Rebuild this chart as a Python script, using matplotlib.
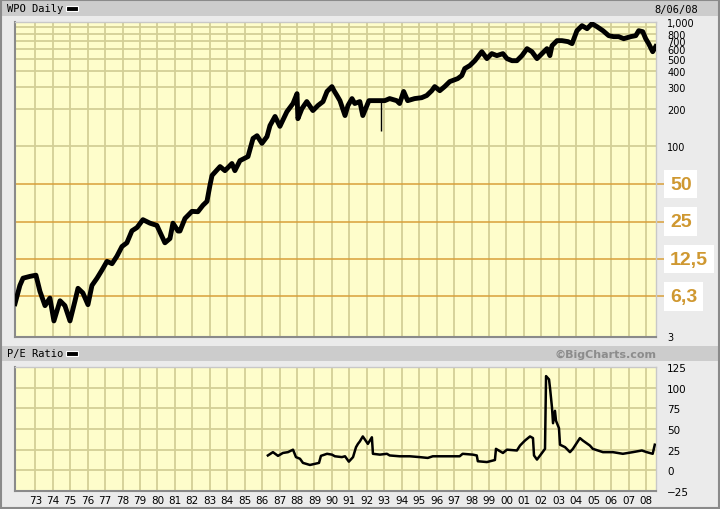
import numpy as np
import matplotlib
matplotlib.use("Agg")
import matplotlib.pyplot as plt
from matplotlib.patches import Rectangle

# --- data ---
price_years = [1971.84, 1972.12, 1972.30, 1972.70, 1973.04, 1973.27, 1973.56, 1973.84,
               1974.07, 1974.42, 1974.70, 1974.99, 1975.28, 1975.45, 1975.73, 1976.02,
               1976.25, 1976.54, 1976.82, 1977.11, 1977.40, 1977.68, 1977.97, 1978.25,
               1978.54, 1978.83, 1979.17, 1979.57, 1979.97, 1980.43, 1980.72, 1980.89,
               1981.18, 1981.29, 1981.58, 1981.98, 1982.32, 1982.61, 1982.84, 1983.01,
               1983.13, 1983.59, 1983.87, 1984.27, 1984.44, 1984.73, 1985.19, 1985.48,
               1985.71, 1985.99, 1986.28, 1986.45, 1986.74, 1987.02, 1987.42, 1987.77,
               1988.00, 1988.05, 1988.28, 1988.56, 1988.91, 1989.20, 1989.49, 1989.72,
               1990.00, 1990.12, 1990.29, 1990.46, 1990.75, 1990.92, 1991.15, 1991.31,
               1991.60, 1991.77, 1992.12, 1992.34, 1992.63, 1993.03, 1993.31, 1993.71,
               1993.88, 1994.11, 1994.34, 1994.74, 1995.14, 1995.43, 1995.72, 1995.89,
               1996.18, 1996.46, 1996.75, 1997.21, 1997.44, 1997.61, 1997.90, 1998.19,
               1998.59, 1998.88, 1999.16, 1999.45, 1999.80, 2000.03, 2000.32, 2000.60,
               2000.89, 2001.18, 2001.46, 2001.75, 2002.04, 2002.32, 2002.49, 2002.61,
               2002.90, 2003.18, 2003.53, 2003.76, 2004.04, 2004.33, 2004.62, 2004.90,
               2005.19, 2005.53, 2005.86, 2006.14, 2006.43, 2006.72, 2007.12, 2007.41,
               2007.58, 2007.81, 2007.98, 2008.15, 2008.38, 2008.55]
price = [5.5, 7.7, 8.8, 9.1, 9.3, 6.9, 5.3, 6.1,
         4.0, 5.8, 5.3, 4.0, 5.8, 7.3, 6.7, 5.4,
         7.7, 8.8, 10.2, 12.0, 11.5, 13.2, 15.8, 16.9,
         21.1, 22.4, 25.9, 24.3, 23.3, 16.9, 18.3, 24.3,
         21.0, 21.0, 26.5, 30.2, 30.0, 33.8, 36.3, 48.8,
         58.6, 69, 64, 73, 64, 77, 83, 116,
         122, 106, 120, 147, 174, 145, 190, 221,
         265, 167, 201, 229, 194, 213, 229, 276,
         302, 280, 256, 233, 177, 213, 242, 221,
         229, 177, 233, 233, 233, 233, 242, 233,
         221, 276, 233, 242, 246, 256, 280, 302,
         280, 302, 331, 350, 370, 421, 445, 487,
         575, 506, 555, 535, 555, 506, 487, 487,
         535, 608, 575, 506, 555, 608, 535, 642,
         705, 705, 692, 667, 847, 929, 879, 964,
         912, 847, 773, 759, 759, 731, 759, 773,
         847, 832, 731, 667, 575, 631]

spike_year = [1992.80]
spike_low = [132]
spike_high = [233]

pe_years = [1986.33, 1986.62, 1986.91, 1987.19, 1987.48, 1987.77, 1987.94, 1988.17,
            1988.34, 1988.74, 1989.26, 1989.37, 1989.72, 1990.00, 1990.17, 1990.57,
            1990.75, 1990.97, 1991.21, 1991.38, 1991.49, 1991.60, 1991.77, 1992.06,
            1992.29, 1992.35, 1992.75, 1993.15, 1993.31, 1993.88, 1994.46, 1995.03,
            1995.49, 1995.78, 1996.58, 1997.32, 1997.49, 1998.07, 1998.30, 1998.36,
            1998.88, 1999.34, 1999.40, 1999.80, 2000.03, 2000.60, 2000.78, 2001.06,
            2001.35, 2001.52, 2001.58, 2001.75, 2001.93, 2002.21, 2002.27, 2002.44,
            2002.50, 2002.61, 2002.67, 2002.78, 2002.84, 2003.01, 2003.07, 2003.36,
            2003.64, 2003.81, 2004.21, 2004.38, 2004.78, 2004.95, 2005.53, 2006.10,
            2006.67, 2007.24, 2007.76, 2008.04, 2008.38, 2008.50]
pe = [18, 22, 17.5, 21, 22, 25, 16, 14,
      9, 6.5, 9, 17.5, 20, 19, 17, 16,
      17, 10.5, 16, 28, 32, 35, 41, 32,
      40, 20, 19, 20, 18, 17, 17, 16,
      15, 17, 17, 17, 20, 19, 18, 11,
      10, 12.5, 26, 21, 25, 24, 30, 36,
      41, 39, 18, 13, 18, 26, 114, 110,
      99, 76, 57, 72, 60, 51, 31, 28,
      22, 26, 39, 36, 30, 26, 22, 22,
      20, 22, 24, 22, 20, 31]

price_ticks = [3, 100, 200, 300, 400, 500, 600, 700, 800, 1000]
price_tick_labels = ["3", "100", "200", "300", "400", "500", "600", "700", "800", "1,000"]
price_grid = [100, 200, 300, 400, 500, 600, 700, 800, 900, 1000]
guide_levels = [50, 25, 12.5, 6.3]
guide_labels = ["50", "25", "12,5", "6,3"]
pe_ticks = [-25, 0, 25, 50, 75, 100, 125]
years = list(range(1973, 2009))
year_labels = ["%02d" % (y % 100) for y in years]

# --- colours ---
bg = "#ebebeb"
strip = "#cccccc"
paper = "#fefdcb"
gridc = "#d3cf96"
orange = "#d9a03a"
orange_txt = "#cf9831"

W, H = 720, 510
fig = plt.figure(figsize=(7.2, 5.1), dpi=100)
fig.patch.set_facecolor(bg)

def px(x0, y0, x1, y1):
    # pixel box -> figure fraction rect
    return [x0 / W, 1 - y1 / H, (x1 - x0) / W, (y1 - y0) / H]

# header strips and outer frame
for (x0, y0, x1, y1) in [(2, 2, 718, 17), (2, 347, 718, 362)]:
    r = px(x0, y0, x1, y1)
    fig.patches.append(Rectangle((r[0], r[1]), r[2], r[3], transform=fig.transFigure,
                                 facecolor=strip, edgecolor="none", zorder=0))
fig.patches.append(Rectangle((0.001, 0.002), 0.998, 0.996, transform=fig.transFigure,
                             facecolor="none", edgecolor="#8a8a8a", lw=1.5, zorder=5))

fig.text(7 / W, 1 - 9.5 / H, "WPO Daily", fontsize=7.5, family="DejaVu Sans Mono", va="center")
fig.text(7 / W, 1 - 354.5 / H, "P/E Ratio", fontsize=7.5, family="DejaVu Sans Mono", va="center")
for yy in (9.5, 354.5):
    r = px(66, yy - 2.5, 78, yy + 2.5)
    fig.patches.append(Rectangle((r[0], r[1]), r[2], r[3], transform=fig.transFigure,
                                 facecolor="black", edgecolor="white", lw=0.8, zorder=3))
fig.text(698 / W, 1 - 9.5 / H, "8/06/08", fontsize=7.5, family="DejaVu Sans Mono",
         va="center", ha="right")
fig.text(656 / W, 1 - 354.5 / H, "\u00a9BigCharts.com", fontsize=8, fontweight="bold",
         color="#8c8c8c", va="center", ha="right")

xlim = (1971.84, 2008.57)

# --- price panel ---
ax = fig.add_axes(px(15, 22.7, 656, 337.5))
ax.set_facecolor(paper)
ax.set_yscale("log")
ax.set_xlim(*xlim)
ax.set_ylim(3, 1000)
for y in years:
    ax.axvline(y, color=gridc, lw=1.3, zorder=1)
for v in price_grid:
    ax.axhline(v, color=gridc, lw=1.3, zorder=1)
for v in guide_levels:
    ax.axhline(v, xmax=1.012, color=orange, lw=1.1, zorder=1, clip_on=False)
ax.plot(price_years, price, color="black", lw=3.5, solid_joinstyle="round", zorder=3)
ax.vlines(spike_year, spike_low, spike_high, color="black", lw=1, zorder=3)
ax.set_yticks(price_ticks)
ax.set_yticklabels(price_tick_labels)
ax.yaxis.set_minor_locator(matplotlib.ticker.NullLocator())
ax.yaxis.tick_right()
ax.tick_params(axis="y", length=0, pad=8, labelsize=7)
ax.set_xticks([])
for lab in ax.get_yticklabels():
    lab.set_horizontalalignment("left")

for v, t in zip(guide_levels, guide_labels):
    ax.annotate(t, xy=(1.0, v), xycoords=("axes fraction", "data"),
                xytext=(10, 0), textcoords="offset points", va="center", ha="left",
                fontsize=14, fontweight="bold", family="Liberation Sans", color=orange_txt,
                bbox=dict(boxstyle="square,pad=0.3", facecolor="white", edgecolor="none"),
                annotation_clip=False)

# --- P/E panel ---
ax2 = fig.add_axes(px(15, 368, 656, 492))
ax2.set_facecolor(paper)
ax2.set_xlim(*xlim)
ax2.set_ylim(-25, 125)
for y in years:
    ax2.axvline(y, color=gridc, lw=1.3, zorder=1)
for v in pe_ticks:
    ax2.axhline(v, color=gridc, lw=1.3, zorder=1)
ax2.plot(pe_years, pe, color="black", lw=1.8, zorder=3)
ax2.set_yticks(pe_ticks)
ax2.yaxis.tick_right()
ax2.tick_params(axis="y", length=0, pad=8, labelsize=7.5)
for lab in ax2.get_yticklabels():
    lab.set_horizontalalignment("left")
ax2.set_xticks(years)
ax2.set_xticklabels(year_labels)
ax2.tick_params(axis="x", length=0, pad=3, labelsize=7.5)

for a in (ax, ax2):
    for s in ("top", "right"):
        a.spines[s].set_color("#c8c8c8")
        a.spines[s].set_linewidth(1)
    for s in ("left", "bottom"):
        a.spines[s].set_color("#8a8a8a")
        a.spines[s].set_linewidth(1.5)

fig.savefig("out.png", dpi=100, facecolor=fig.get_facecolor())
